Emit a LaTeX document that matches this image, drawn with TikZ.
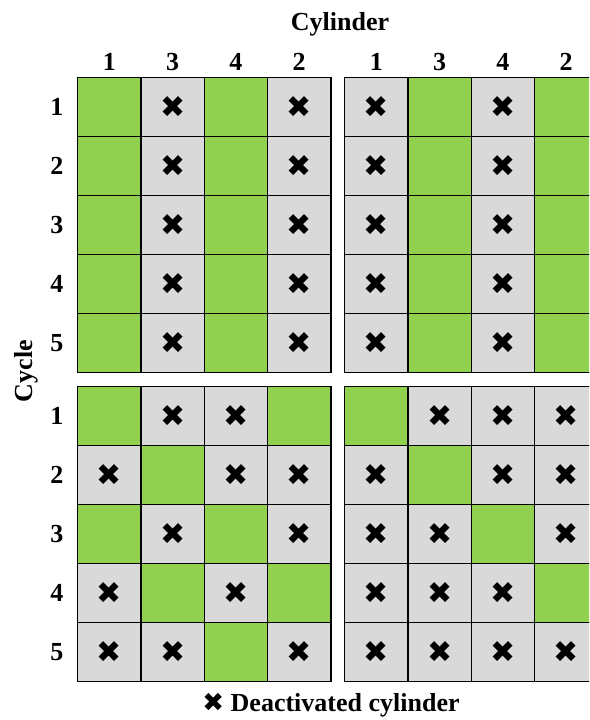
\documentclass[tikz,border=0pt]{standalone}
\usepackage{fontspec}
\setmainfont{Liberation Serif}
\newfontfamily\symfont{DejaVu Sans}
\usepackage{xcolor}
\usetikzlibrary{positioning}
\definecolor{ongreen}{HTML}{92D050}
\definecolor{offgray}{HTML}{D9D9D9}
\newcommand{\xmark}[1][30]{{\symfont\fontsize{#1}{#1}\selectfont ✖}}
% #1 name, #2/#3 top-left corner, #4 rows (1 = active, 0 = deactivated)
\newcommand{\cellgrid}[4]{%
  \foreach \pa/\pb/\pc/\pd [count=\r] in {#4} {
    \foreach \v [count=\c] in {\pa,\pb,\pc,\pd} {
      \node[st\v] (#1-\r-\c) at ({#2+(\c-1)*63.3},{#3+(\r-1)*59})
        {\ifnum\v=0 \xmark\fi};
    }
  }%
}

\begin{document}
\begin{tikzpicture}[x=1pt, y=-1pt,
  cell/.style={draw, line width=1.3pt, minimum width=63.3pt, minimum height=59pt,
               inner sep=0pt, anchor=north west},
  st0/.style={cell, fill=offgray},
  st1/.style={cell, fill=ongreen},
  lab/.style={font=\bfseries\fontsize{26}{26}\selectfont}
]
\clip (0,0) rectangle (589,720);
\fill[white] (0,0) rectangle (589,720);

% the four grids
\cellgrid{tl}{77}{77}{1/0/1/0, 1/0/1/0, 1/0/1/0, 1/0/1/0, 1/0/1/0}
\cellgrid{tr}{344}{77}{0/1/0/1, 0/1/0/1, 0/1/0/1, 0/1/0/1, 0/1/0/1}
\cellgrid{bl}{77}{386}{1/0/0/1, 0/1/0/0, 1/0/1/0, 0/1/0/1, 0/0/1/0}
\cellgrid{br}{344}{386}{1/0/0/0, 0/1/0/0, 0/0/1/0, 0/0/0/1, 0/0/0/0}

% cylinder labels
\node[lab] (cyl) at (340,24) {Cylinder};
\foreach \g in {tl,tr} {
  \foreach \n [count=\c] in {1,3,4,2} {
    \node[lab, above=3pt of \g-1-\c.north] (\g-h\c) {\n};
  }
}

% cycle labels
\foreach \g in {tl,bl} {
  \foreach \r in {1,...,5} {
    \node[lab, left=10pt of \g-\r-1.west] (\g-v\r) {\r};
  }
}
\node[lab, rotate=90] (cyc) at (26,371) {Cycle};

% legend
\node[lab, inner sep=1pt] (legend) at (331,705) {\xmark[26]\ Deactivated cylinder};
\end{tikzpicture}
\end{document}
